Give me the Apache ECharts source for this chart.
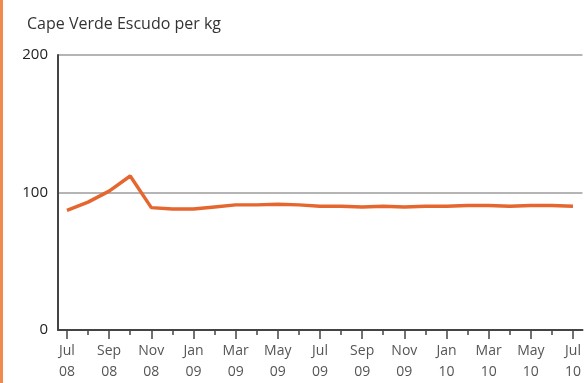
<!DOCTYPE html>
<html>
<head>
<meta charset="utf-8">
<script src="https://cdn.jsdelivr.net/npm/echarts@6/dist/echarts.min.js"></script>
<style>
html,body{margin:0;padding:0;background:#fff;}
#chart{width:584px;height:383px;}
</style>
</head>
<body>
<div id="chart"></div>
<script>
const months = ["Jul 08","Aug 08","Sep 08","Oct 08","Nov 08","Dec 08","Jan 09","Feb 09","Mar 09","Apr 09","May 09","Jun 09","Jul 09","Aug 09","Sep 09","Oct 09","Nov 09","Dec 09","Jan 10","Feb 10","Mar 10","Apr 10","May 10","Jun 10","Jul 10"];
const prices = [87,93,101,112,89,88,88,89.5,91,91,91.5,91,90,90,89.5,90,89.5,90,90,90.5,90.5,90,90.5,90.5,90];
const tickLabels = ["Jul\n08","Sep\n08","Nov\n08","Jan\n09","Mar\n09","May\n09","Jul\n09","Sep\n09","Nov\n09","Jan\n10","Mar\n10","May\n10","Jul\n10"];
const yTicks = [0,100,200];
const unitTitle = "Cape Verde Escudo per kg";

const majorIdx = tickLabels.map((_, i) => i * 2);
const minorIdx = months.map((_, i) => i).filter(i => i % 2 === 1);
const font = "Open Sans";

const chart = echarts.init(document.getElementById('chart'));
chart.setOption({
  animation: false,
  backgroundColor: '#fff',
  title: {
    text: unitTitle, left: 22, top: 11,
    textStyle: {fontFamily: font, fontSize: 16, fontWeight: 'normal', color: '#333'}
  },
  graphic: [{type: 'rect', left: 0, top: 0, shape: {width: 3, height: 383}, style: {fill: '#f08a4b'}}],
  grid: {left: 58, right: 0, top: 55, bottom: 50, containLabel: false},
  xAxis: [{
    type: 'value', min: -0.425, max: 24.45,
    axisLine: {show: true, onZero: false, lineStyle: {color: '#444', width: 2}},
    axisTick: {show: true, customValues: majorIdx, length: 9, lineStyle: {color: '#444', width: 1.5}},
    axisLabel: {show: true, customValues: majorIdx, margin: 11, lineHeight: 21,
      fontFamily: font, fontSize: 14, color: '#555',
      formatter: v => tickLabels[Math.round(v / 2)]},
    splitLine: {show: false}
  }, {
    type: 'value', min: -0.425, max: 24.45, position: 'bottom',
    axisLine: {show: false},
    axisTick: {show: true, customValues: minorIdx, length: 5, lineStyle: {color: '#444', width: 1.5}},
    axisLabel: {show: false},
    splitLine: {show: false}
  }],
  yAxis: {
    type: 'value', min: 0, max: 200, interval: 100,
    axisLine: {show: true, onZero: false, lineStyle: {color: '#444', width: 2}},
    axisTick: {show: false},
    axisLabel: {fontFamily: font, fontSize: 15, color: '#222', margin: 10,
      customValues: yTicks},
    splitLine: {show: true, lineStyle: {color: '#b5b5b5', width: 2},
      showMinLine: false}
  },
  series: [{
    type: 'line', xAxisIndex: 0, symbol: 'none',
    data: prices.map((v, i) => [i, v]),
    lineStyle: {color: '#e5662f', width: 3.4},
    z: 5
  }]
});
</script>
</body>
</html>
